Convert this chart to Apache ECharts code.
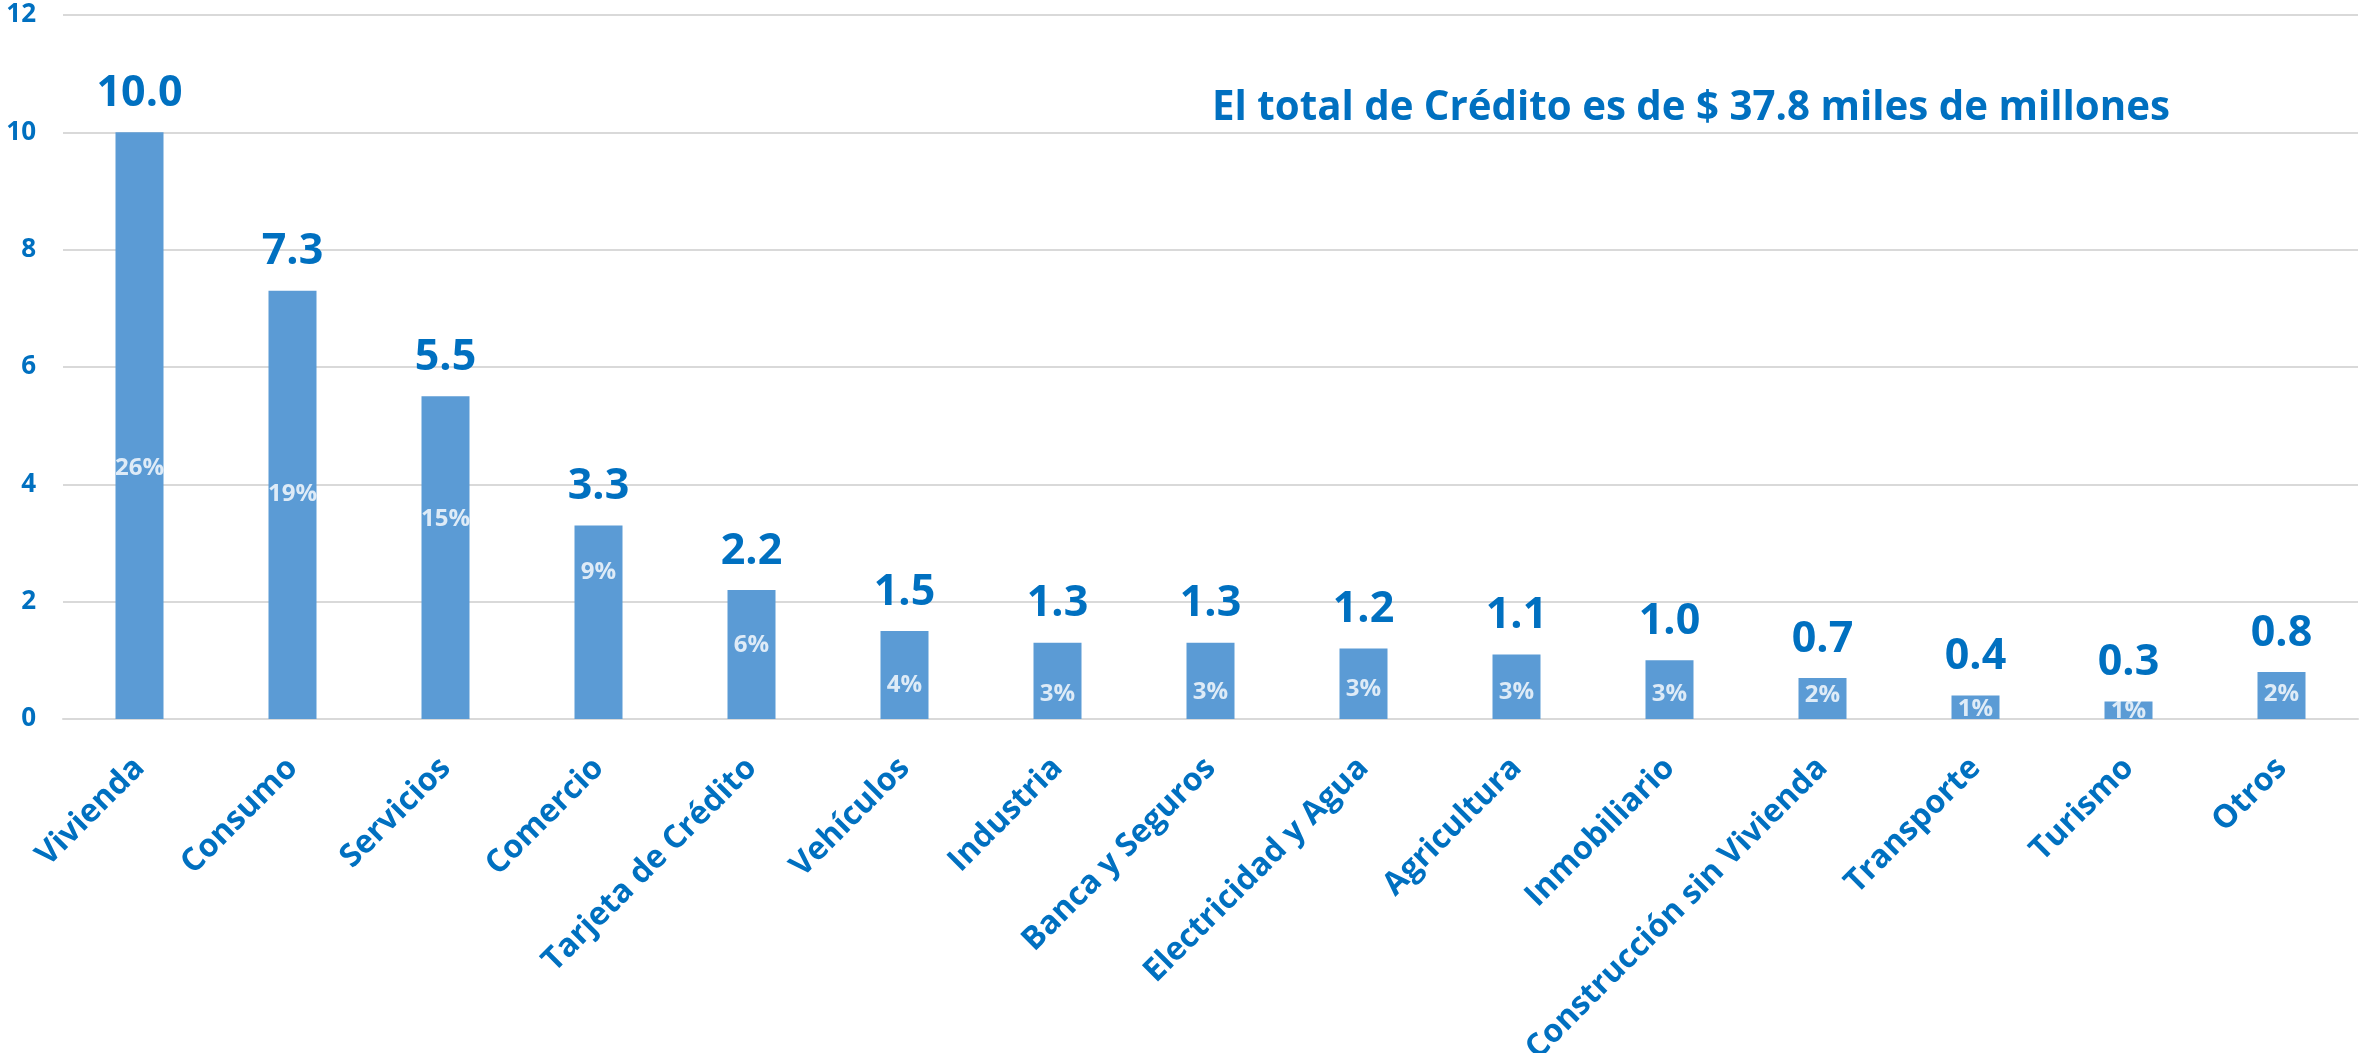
<!DOCTYPE html>
<html>
<head>
<meta charset="utf-8">
<title>Crédito por sector</title>
<script src="https://cdn.jsdelivr.net/npm/echarts@6/dist/echarts.min.js"></script>
<style>
  html, body { margin: 0; padding: 0; background: #ffffff; }
  #chart { width: 2361px; height: 1053px; }
</style>
</head>
<body>
<div id="chart"></div>
<script>
// Saldo de crédito por sector (miles de millones de $)
const sectores = [
  'Vivienda', 'Consumo', 'Servicios', 'Comercio', 'Tarjeta de Crédito',
  'Vehículos', 'Industria', 'Banca y Seguros', 'Electricidad y Agua', 'Agricultura',
  'Inmobiliario', 'Construcción sin Vivienda', 'Transporte', 'Turismo', 'Otros'
];
const montos = [10.0, 7.3, 5.5, 3.3, 2.2, 1.5, 1.3, 1.3, 1.2, 1.1, 1.0, 0.7, 0.4, 0.3, 0.8];
// Participación de cada sector en el total (%)
const participacion = [26, 19, 15, 9, 6, 4, 3, 3, 3, 3, 3, 2, 1, 1, 2];
// Altura (en unidades del eje) donde se coloca cada etiqueta de participación
const alturaEtiquetaPct = [4.28, 3.83, 3.41, 2.51, 1.26, 0.58, 0.43, 0.46, 0.51, 0.46, 0.43, 0.41, 0.17, 0.14, 0.43];
// Eje de valores
const ejeMin = 0, ejeMax = 12, ejeIntervalo = 2;
const totalTexto = 'El total de Crédito es de $ 37.8 miles de millones';

const AZUL_TEXTO = '#0070C0';
const AZUL_BARRA = '#5B9BD5';
const FUENTE = '"Open Sans", "Noto Sans", sans-serif';

// Ancho natural del texto del total, para comprimirlo horizontalmente
function anchoTexto(txt, font) {
  const c = document.createElement('canvas').getContext('2d');
  c.font = font;
  return c.measureText(txt).width;
}
const fuenteTotal = 'bold 42px ' + FUENTE;
const escalaTotal = 958 / anchoTexto(totalTexto, fuenteTotal);

const chart = echarts.init(document.getElementById('chart'), null, { renderer: 'canvas' });

chart.setOption({
  animation: false,
  backgroundColor: '#ffffff',
  grid: { left: 63, right: 3, top: 15, bottom: 334, containLabel: false, outerBoundsMode: 'none' },
  xAxis: {
    type: 'category',
    data: sectores,
    axisTick: { show: false },
    axisLine: { show: true, lineStyle: { color: '#d9d9d9', width: 2 } },
    axisLabel: {
      interval: 0,
      rotate: 45,
      margin: 44,
      color: AZUL_TEXTO,
      fontFamily: FUENTE,
      fontWeight: 'bold',
      fontSize: 32
    }
  },
  yAxis: {
    type: 'value',
    min: ejeMin,
    max: ejeMax,
    interval: ejeIntervalo,
    axisLine: { show: false },
    axisTick: { show: false },
    splitLine: { lineStyle: { color: '#d9d9d9', width: 2 } },
    axisLabel: {
      margin: 27,
      color: AZUL_TEXTO,
      fontFamily: FUENTE,
      fontWeight: 'bold',
      fontSize: 26
    }
  },
  series: [
    {
      name: 'Monto',
      type: 'bar',
      data: montos,
      barWidth: 48,
      itemStyle: { color: AZUL_BARRA },
      label: {
        show: true,
        position: 'top',
        distance: 17,
        color: AZUL_TEXTO,
        fontFamily: FUENTE,
        fontWeight: 'bold',
        fontSize: 43,
        formatter: p => p.value.toFixed(1)
      },
      z: 2
    },
    {
      name: 'Participación',
      type: 'scatter',
      data: alturaEtiquetaPct.map((h, i) => [i, h]),
      symbolSize: 0,
      silent: true,
      label: {
        show: true,
        position: 'inside',
        color: '#ffffff',
        fontFamily: FUENTE,
        fontWeight: 'bold',
        fontSize: 24,
        formatter: p => participacion[p.dataIndex] + '%'
      },
      z: 3
    }
  ],
  graphic: [
    {
      type: 'text',
      x: 1212,
      y: 108,
      scaleX: escalaTotal,
      style: {
        x: 0,
        y: 0,
        text: totalTexto,
        font: fuenteTotal,
        fill: AZUL_TEXTO,
        align: 'left',
        verticalAlign: 'middle'
      },
      z: 10
    }
  ]
});
</script>
</body>
</html>
